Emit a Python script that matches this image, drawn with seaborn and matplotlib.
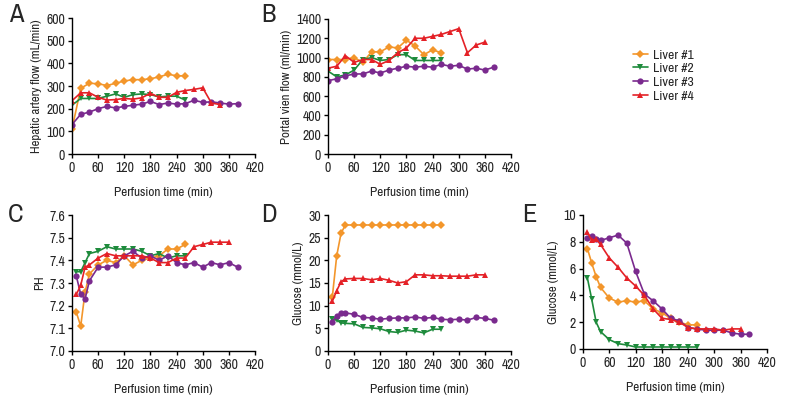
import numpy as np
import pandas as pd
import seaborn as sns
import matplotlib.pyplot as plt
from matplotlib import font_manager

livers = ["Liver #1", "Liver #2", "Liver #3", "Liver #4"]
colors = ["#F3962B", "#1E8B3C", "#7A2A8E", "#E42127"]
markers = ["D", "v", "o", "^"]

# panel A - hepatic artery flow
a_t = [0, 20, 40, 60, 80, 100, 120, 140, 160, 180, 200, 220, 240, 260, 280, 300, 320, 340, 360, 380]
a_l1 = [110, 290, 312, 310, 302, 312, 322, 328, 328, 332, 340, 352, 345, 345]
a_l2 = [215, 245, 245, 245, 255, 265, 250, 262, 265, 262, 252, 255, 255, 238]
a_l3 = [130, 175, 185, 200, 210, 203, 210, 215, 220, 232, 218, 225, 220, 222, 237, 228, 230, 225, 220, 222]
a_l4 = [235, 270, 270, 250, 238, 240, 245, 242, 248, 268, 250, 250, 272, 280, 285, 292, 225, 218]

# panel B - portal vein flow
b_t = a_t
b_l1 = [980, 980, 980, 1000, 950, 1060, 1060, 1110, 1100, 1180, 1120, 1030, 1080, 1050]
b_l2 = [860, 800, 820, 870, 980, 1000, 970, 980, 1030, 1030, 970, 970, 970, 970]
b_l3 = [760, 780, 810, 830, 830, 860, 840, 870, 890, 910, 900, 910, 900, 930, 910, 920, 880, 890, 870, 900]
b_l4 = [890, 910, 1020, 950, 980, 980, 930, 970, 1050, 1100, 1200, 1200, 1220, 1240, 1270, 1300, 1050, 1130, 1160]

# panel C - pH
c_t = [10, 20, 30, 40, 60, 80, 100, 120, 140, 160, 180, 200, 220, 240, 260, 280, 300, 320, 340, 360, 380]
c_l1 = [7.17, 7.11, 7.26, 7.34, 7.38, 7.40, 7.39, 7.42, 7.38, 7.40, 7.41, 7.42, 7.45, 7.45, 7.47]
c_l2 = [7.35, 7.35, 7.39, 7.43, 7.44, 7.46, 7.45, 7.45, 7.45, 7.44, 7.42, 7.43, 7.41, 7.42, 7.42]
c_l3 = [7.33, 7.25, 7.23, 7.31, 7.37, 7.37, 7.38, 7.42, 7.44, 7.41, 7.42, 7.40, 7.42, 7.39, 7.38, 7.39, 7.37, 7.39, 7.38, 7.39, 7.37]
c_l4 = [7.25, 7.29, 7.37, 7.38, 7.41, 7.43, 7.42, 7.42, 7.42, 7.42, 7.41, 7.39, 7.39, 7.41, 7.41, 7.46, 7.47, 7.48, 7.48, 7.48]

# panel D - glucose (perfusate)
d_t = c_t
d_l1 = [12, 21, 26, 27.8, 27.8, 27.8, 27.8, 27.8, 27.8, 27.8, 27.8, 27.8, 27.8, 27.8, 27.8]
d_l2 = [7.0, 6.8, 6.2, 6.1, 6.0, 5.2, 5.1, 4.9, 4.3, 4.1, 4.6, 4.4, 4.0, 4.8, 4.8]
d_l3 = [6.5, 7.8, 8.3, 8.4, 8.1, 7.4, 7.3, 7.0, 7.2, 7.3, 7.3, 7.5, 7.2, 7.4, 7.0, 6.9, 7.0, 6.8, 7.4, 7.2, 6.8]
d_l4 = [11, 13.3, 15.3, 15.9, 16, 16, 15.7, 16, 15.6, 15, 15.3, 16.8, 16.8, 16.6, 16.6, 16.5, 16.5, 16.5, 16.8, 16.8]

# panel E - glucose
e_t = c_t
e_l1 = [7.5, 6.4, 5.4, 4.6, 3.8, 3.5, 3.6, 3.5, 3.6, 3.0, 2.7, 2.3, 2.0, 1.8, 1.8]
e_l2 = [5.3, 3.7, 2.0, 1.3, 0.7, 0.4, 0.3, 0.15, 0.15, 0.15, 0.15, 0.15, 0.15, 0.15, 0.15]
e_l3 = [8.3, 8.4, 8.2, 8.1, 8.3, 8.5, 7.9, 5.8, 4.1, 3.6, 3.0, 2.3, 2.1, 1.6, 1.5, 1.4, 1.4, 1.4, 1.2, 1.1, 1.1]
e_l4 = [8.7, 8.1, 8.2, 7.8, 6.8, 6.1, 5.3, 4.7, 4.0, 3.0, 2.3, 2.2, 2.0, 1.6, 1.5, 1.5, 1.5, 1.4, 1.5, 1.5]


def to_long(t, series):
    rows = []
    for name, vals in zip(livers, series):
        for x, y in zip(t, vals):
            rows.append((name, x, y))
    return pd.DataFrame(rows, columns=["liver", "time", "value"])


sns.set_style("ticks")

# narrow font if one is around, else Roboto
font_names = {f.name for f in font_manager.fontManager.ttflist}
narrow = [n for n in font_names if "Narrow" in n or "Condensed" in n]
cond_stretch = [f.name for f in font_manager.fontManager.ttflist if f.stretch == "condensed"]
if "Liberation Sans Narrow" in font_names:
    plt.rcParams["font.family"] = ["Liberation Sans Narrow", "DejaVu Sans"]
elif narrow:
    plt.rcParams["font.family"] = [sorted(narrow)[0], "DejaVu Sans"]
elif cond_stretch:
    plt.rcParams["font.family"] = [cond_stretch[0], "DejaVu Sans"]
    plt.rcParams["font.stretch"] = "condensed"
else:
    plt.rcParams["font.family"] = ["Roboto", "DejaVu Sans"]

fig = plt.figure(figsize=(7.92, 4.08), dpi=100)
W, H = 792.0, 408.0


def make_ax(x0, x1, y0, y1):
    return fig.add_axes([x0 / W, 1 - y1 / H, (x1 - x0) / W, (y1 - y0) / H])


panels = [
    ("A", make_ax(72, 255, 18, 154), a_t, [a_l1, a_l2, a_l3, a_l4], (0, 600), np.arange(0, 601, 100), "Hepatic artery flow (mL/min)", "%d", (16, 14)),
    ("B", make_ax(328, 511, 19, 154), b_t, [b_l1, b_l2, b_l3, b_l4], (0, 1400), np.arange(0, 1401, 200), "Portal vien flow (ml/min)", "%d", (268, 14)),
    ("C", make_ax(72, 255, 215, 351), c_t, [c_l1, c_l2, c_l3, c_l4], (7.0, 7.6), np.arange(7.0, 7.61, 0.1), "PH", "%.1f", (16, 214)),
    ("D", make_ax(328, 511, 215, 351), d_t, [d_l1, d_l2, d_l3, d_l4], (0, 30), np.arange(0, 31, 5), "Glucose (mmol/L)", "%d", (269, 214)),
    ("E", make_ax(583, 767, 215, 349), e_t, [e_l1, e_l2, e_l3, e_l4], (0, 10), np.arange(0, 11, 2), "Glucose (mmol/L)", "%d", (529, 214)),
]

for letter, ax, t, series, ylim, yticks, ylabel, fmt, lpos in panels:
    df = to_long(t, series)
    sns.lineplot(data=df, x="time", y="value", hue="liver", style="liver",
                 palette=colors, markers=markers, dashes=False, markersize=4.5,
                 markeredgewidth=0, linewidth=1.2, ax=ax, legend=(letter == "B"))
    ax.set_xlim(0, 420)
    ax.set_ylim(*ylim)
    ax.set_xticks(np.arange(0, 421, 60))
    ax.set_yticks(yticks)
    ax.set_yticklabels([fmt % v for v in yticks])
    ax.set_xlabel("Perfusion time (min)", fontsize=9.5, labelpad=9)
    ax.set_ylabel(ylabel, fontsize=9.3, labelpad=3)
    ax.tick_params(labelsize=10, length=3, width=1, pad=2, color="black")
    for s in ["left", "bottom"]:
        ax.spines[s].set_linewidth(1.0)
        ax.spines[s].set_color("black")
    sns.despine(ax=ax)
    fig.text(lpos[0] / W, 1 - lpos[1] / H, letter, fontsize=19, va="center", ha="center")
    if letter == "B":
        leg = ax.legend(loc="upper left", bbox_to_anchor=((633 - 328) / 183.0, (154 - 49) / 135.0),
                        frameon=False, fontsize=9.8, handlelength=1.1, handletextpad=0.35,
                        labelspacing=0.16, borderaxespad=0, borderpad=0)

fig.savefig("out.png", dpi=100)
